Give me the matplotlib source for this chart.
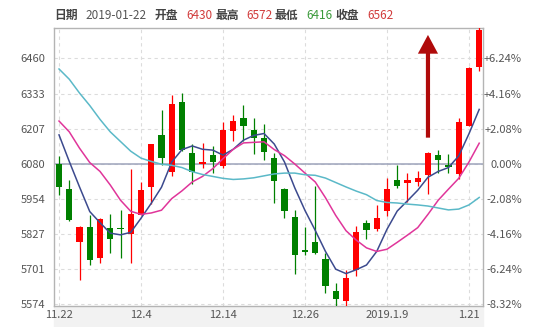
import matplotlib
matplotlib.use("Agg")
import matplotlib.pyplot as plt
from matplotlib.patches import Rectangle
import numpy as np

plt.rcParams["font.family"] = ["Noto Sans CJK SC", "DejaVu Sans"]

# daily candles, 2018-11-22 .. 2019-01-22
opens = [6080, 5989, 5797, 5853, 5741, 5849, 5849, 5827, 5896, 5996,
         6184, 6051, 6304, 6119, 6079, 6110, 6072, 6198, 6246, 6203,
         6174, 6102, 5990, 5889, 5770, 5797, 5737, 5620, 5584, 5695,
         5867, 5845, 5909, 6020, 6010, 6015, 6039, 6112, 6076, 6041,
         6217, 6430]
highs = [6108, 6022, 5856, 5895, 5884, 5897, 5914, 6059, 6013, 6152,
         6275, 6328, 6336, 6152, 6156, 6145, 6230, 6256, 6292, 6246,
         6222, 6120, 5993, 5914, 5851, 5999, 5758, 5650, 5697, 5854,
         5875, 5931, 6027, 6077, 6046, 6054, 6123, 6129, 6116, 6244,
         6429, 6572]
lows = [5967, 5872, 5660, 5714, 5721, 5758, 5738, 5721, 5894, 5933,
        6077, 6036, 6126, 6005, 6066, 6045, 6066, 6162, 6162, 6116,
        6092, 5938, 5883, 5680, 5749, 5753, 5613, 5563, 5565, 5673,
        5808, 5837, 5890, 5992, 5940, 5998, 5972, 6046, 6046, 6023,
        6217, 6416]
closes = [5996, 5875, 5853, 5731, 5881, 5807, 5843, 5899, 5986, 6150,
          6099, 6294, 6128, 6051, 6087, 6085, 6203, 6234, 6215, 6171,
          6121, 6016, 5909, 5749, 5761, 5758, 5637, 5590, 5668, 5834,
          5839, 5885, 5990, 5998, 6020, 6029, 6120, 6092, 6068, 6232,
          6427, 6562]

ma5 = [6184, 6088, 5996, 5907, 5867, 5829, 5823, 5832, 5883, 5937,
       5995, 6086, 6131, 6144, 6132, 6129, 6111, 6132, 6165, 6182,
       6189, 6151, 6086, 5993, 5911, 5839, 5763, 5699, 5683, 5697,
       5714, 5763, 5843, 5909, 5946, 5984, 6031, 6052, 6066, 6108,
       6188, 6276]
ma10 = [6234, 6195, 6136, 6084, 6052, 6003, 5948, 5908, 5897, 5902,
        5912, 5954, 5982, 6014, 6034, 6062, 6098, 6132, 6155, 6157,
        6159, 6131, 6109, 6079, 6046, 6014, 5957, 5893, 5838, 5804,
        5776, 5763, 5771, 5796, 5822, 5849, 5897, 5948, 5988, 6027,
        6086, 6154]
ma20 = [6422, 6385, 6335, 6290, 6240, 6195, 6160, 6125, 6100, 6088,
        6078, 6074, 6066, 6051, 6041, 6034, 6027, 6023, 6025, 6029,
        6036, 6043, 6046, 6046, 6040, 6038, 6028, 6012, 5996, 5981,
        5968, 5947, 5940, 5938, 5934, 5931, 5927, 5920, 5913, 5916,
        5931, 5958]

date_ticks = [0, 8, 16, 24, 32, 40]
date_labels = ["11.22", "12.4", "12.14", "12.26", "2019.1.9", "1.21"]

base_price = 6080
price_ticks = [5574, 5701, 5827, 5954, 6080, 6207, 6333, 6460]
pct_labels = ["-8.32%", "-6.24%", "-4.16%", "-2.08%", "0.00%",
              "+2.08%", "+4.16%", "+6.24%"]

# header line: (label, value, value colour)
header = [("日期", "2019-01-22", "#555555"),
          ("开盘", "6430", "#d13b3b"),
          ("最高", "6572", "#d13b3b"),
          ("最低", "6416", "#3a9a3a"),
          ("收盘", "6562", "#d13b3b")]
header_x = [54, 85, 155, 186, 216, 246, 275, 306, 335, 367]

arrow_day = 36
arrow_from, arrow_to = 6174, 6545

W, H = 538, 327
fig = plt.figure(figsize=(W / 100, H / 100), dpi=100)
ax = fig.add_axes([54 / W, 21 / H, 429 / W, 278 / H])

# light band behind the date labels
fig.patches.append(Rectangle((54 / W, 0), 429 / W, 21 / H,
                             transform=fig.transFigure, color="#f2f2f2", zorder=-1))

x = np.arange(len(closes))
o, h, l, c = map(np.array, (opens, highs, lows, closes))
up = c >= o
cols = np.where(up, "#ff0000", "#008000")

ax.vlines(x, l, h, colors=cols, lw=0.9, zorder=3)
body_lo = np.minimum(o, c)
body_h = np.maximum(np.abs(c - o), 6)
ax.bar(x, body_h, bottom=body_lo, width=0.6, color=cols, linewidth=0, zorder=4)

ax.plot(x, ma5, color="#3c4a8e", lw=1.1, zorder=5)
ax.plot(x, ma10, color="#e0359a", lw=1.1, zorder=5)
ax.plot(x, ma20, color="#5bb9c8", lw=1.1, zorder=5)

ax.axhline(base_price, color="#9da3bb", lw=1.1, zorder=2)

ax.annotate("", xy=(arrow_day, arrow_to), xytext=(arrow_day, arrow_from),
            arrowprops=dict(arrowstyle="simple,head_length=1.35,head_width=1.45,tail_width=0.3",
                            mutation_scale=10, color="#b00a0a", lw=0,
                            shrinkA=0, shrinkB=0), zorder=6)

ax.set_xlim(-0.49, 41.37)
ax.set_ylim(5566, 6570)
ax.set_xticks(date_ticks, date_labels)
ax.set_yticks(price_ticks, [str(p) for p in price_ticks])
ax.grid(color="#dcdcdc", linestyle=(0, (3, 3)), lw=0.8, zorder=1)
ax.set_axisbelow(True)
ax.tick_params(axis="y", length=0, pad=6.5, labelsize=8, labelcolor="#555555")
ax.tick_params(axis="x", length=0, pad=3, labelsize=8, labelcolor="#555555")
for s in ax.spines.values():
    s.set_color("#b4b4b4")
    s.set_linewidth(1)

ax2 = ax.twinx()
ax2.set_ylim(ax.get_ylim())
ax2.set_yticks(price_ticks, pct_labels)
ax2.tick_params(axis="y", length=0, pad=28, labelsize=8, labelcolor="#555555")
for lab in ax2.get_yticklabels():
    lab.set_horizontalalignment("right")
for s in ax2.spines.values():
    s.set_visible(False)

hy = 1 - 15.7 / H
for i, (lab, val, vc) in enumerate(header):
    fig.text(header_x[2 * i] / W, hy, lab, fontsize=8.5, fontweight="bold",
             color="#444444", va="center", ha="left")
    fig.text(header_x[2 * i + 1] / W, hy, val, fontsize=8.5,
             color=vc, va="center", ha="left")

fig.savefig("out.png", dpi=100)
